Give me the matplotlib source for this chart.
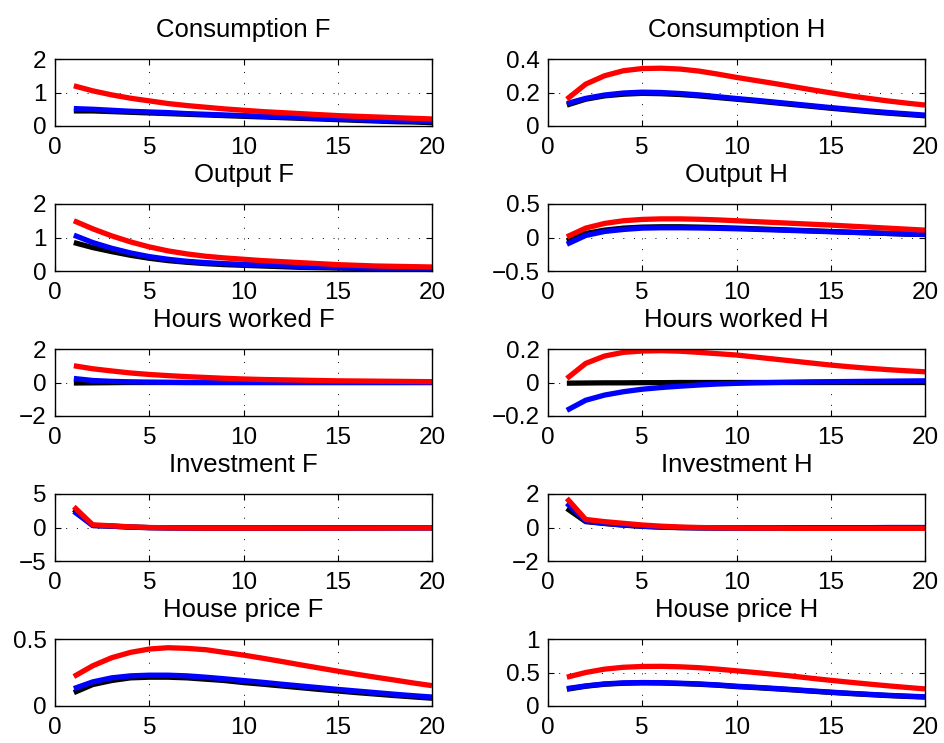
import matplotlib
matplotlib.use("Agg")
import matplotlib.pyplot as plt
import numpy as np

plt.rcParams['font.family'] = ['Liberation Sans', 'DejaVu Sans']

horizon = list(range(1, 21))

titles = ["Consumption F", "Consumption H", "Output F", "Output H",
          "Hours worked F", "Hours worked H", "Investment F", "Investment H",
          "House price F", "House price H"]

ylims = [(0, 2), (0, 0.4), (0, 2), (-0.5, 0.5), (-2, 2), (-0.2, 0.2),
         (-5, 5), (-2, 2), (0, 0.5), (0, 1)]
yticks = [[0, 1, 2], [0, 0.2, 0.4], [0, 1, 2], [-0.5, 0, 0.5], [-2, 0, 2],
          [-0.2, 0, 0.2], [-5, 0, 5], [-2, 0, 2], [0, 0.5], [0, 0.5, 1]]
yticklabels = [["0", "1", "2"], ["0", "0.2", "0.4"], ["0", "1", "2"],
               ["\u22120.5", "0", "0.5"], ["\u22122", "0", "2"],
               ["\u22120.2", "0", "0.2"], ["\u22125", "0", "5"],
               ["\u22122", "0", "2"], ["0", "0.5"], ["0", "0.5", "1"]]

# responses: black, blue, red per panel
black = [
    [0.45, 0.45, 0.43, 0.41, 0.39, 0.37, 0.35, 0.33, 0.31, 0.29, 0.27, 0.25, 0.23, 0.21, 0.19, 0.17, 0.15, 0.13, 0.12, 0.10],
    [0.125, 0.16, 0.18, 0.19, 0.195, 0.193, 0.188, 0.18, 0.17, 0.16, 0.15, 0.139, 0.128, 0.117, 0.106, 0.096, 0.086, 0.077, 0.069, 0.061],
    [0.85, 0.70, 0.58, 0.47, 0.38, 0.31, 0.26, 0.22, 0.19, 0.17, 0.15, 0.13, 0.11, 0.10, 0.09, 0.08, 0.07, 0.06, 0.05, 0.05],
    [-0.05, 0.06, 0.11, 0.14, 0.155, 0.16, 0.16, 0.155, 0.148, 0.14, 0.13, 0.12, 0.11, 0.10, 0.09, 0.08, 0.07, 0.06, 0.05, 0.045],
    [-0.03, -0.02, -0.01, 0.0, 0.0, 0.0, 0.0, 0.0, 0.0, 0.0, 0.0, 0.0, 0.0, 0.0, 0.0, 0.0, 0.0, 0.0, 0.0, 0.0],
    [-0.004, -0.003, -0.002, -0.002, -0.001, -0.001, 0.0, 0.0, 0.0, 0.0, 0.0, 0.0, 0.0, 0.0, 0.0, 0.0, 0.0, 0.0, 0.0, 0.0],
    [2.7, 0.3, 0.2, 0.05, -0.02, -0.05, -0.07, -0.08, -0.08, -0.08, -0.08, -0.08, -0.08, -0.07, -0.07, -0.06, -0.06, -0.05, -0.05, -0.05],
    [1.14, 0.35, 0.24, 0.14, 0.07, 0.02, -0.01, -0.02, -0.03, -0.03, -0.03, -0.03, -0.02, -0.02, -0.02, -0.01, -0.01, -0.01, -0.01, -0.01],
    [0.10, 0.16, 0.19, 0.21, 0.215, 0.215, 0.21, 0.20, 0.19, 0.175, 0.163, 0.15, 0.137, 0.124, 0.112, 0.1, 0.089, 0.078, 0.068, 0.058],
    [0.25, 0.295, 0.325, 0.34, 0.345, 0.343, 0.335, 0.325, 0.31, 0.29, 0.275, 0.258, 0.24, 0.221, 0.203, 0.186, 0.171, 0.156, 0.144, 0.133],
]

blue = [
    [0.52, 0.50, 0.47, 0.44, 0.42, 0.40, 0.37, 0.35, 0.33, 0.31, 0.29, 0.27, 0.25, 0.23, 0.21, 0.19, 0.17, 0.16, 0.14, 0.13],
    [0.134, 0.165, 0.185, 0.197, 0.202, 0.2, 0.194, 0.186, 0.175, 0.164, 0.154, 0.143, 0.132, 0.121, 0.11, 0.1, 0.09, 0.081, 0.073, 0.065],
    [1.07, 0.85, 0.68, 0.54, 0.43, 0.35, 0.29, 0.25, 0.22, 0.20, 0.18, 0.16, 0.14, 0.12, 0.10, 0.09, 0.08, 0.07, 0.06, 0.05],
    [-0.10, 0.03, 0.09, 0.12, 0.14, 0.145, 0.145, 0.142, 0.137, 0.13, 0.122, 0.113, 0.104, 0.095, 0.086, 0.077, 0.069, 0.061, 0.053, 0.046],
    [0.24, 0.12, 0.07, 0.04, 0.02, 0.01, 0.0, 0.0, 0.0, 0.0, 0.0, 0.0, 0.0, 0.0, 0.0, 0.0, 0.0, 0.0, 0.0, 0.0],
    [-0.166, -0.106, -0.075, -0.055, -0.04, -0.03, -0.022, -0.015, -0.009, -0.005, -0.002, 0.0, 0.002, 0.004, 0.005, 0.006, 0.007, 0.008, 0.009, 0.01],
    [2.4, 0.3, 0.2, 0.06, -0.02, -0.05, -0.06, -0.07, -0.07, -0.07, -0.07, -0.06, -0.06, -0.06, -0.05, -0.05, -0.05, -0.04, -0.04, -0.04],
    [1.45, 0.38, 0.25, 0.15, 0.08, 0.03, 0.0, -0.02, -0.02, -0.02, -0.02, -0.02, -0.02, -0.01, -0.01, -0.01, -0.01, 0.0, 0.0, 0.0],
    [0.13, 0.18, 0.21, 0.225, 0.23, 0.23, 0.225, 0.215, 0.203, 0.19, 0.177, 0.163, 0.15, 0.137, 0.124, 0.112, 0.1, 0.088, 0.077, 0.067],
    [0.26, 0.30, 0.33, 0.345, 0.35, 0.348, 0.34, 0.33, 0.315, 0.295, 0.28, 0.263, 0.245, 0.225, 0.207, 0.19, 0.175, 0.16, 0.148, 0.138],
]

red = [
    [1.2, 1.05, 0.93, 0.83, 0.75, 0.67, 0.61, 0.56, 0.51, 0.47, 0.43, 0.40, 0.37, 0.34, 0.31, 0.29, 0.27, 0.25, 0.23, 0.21],
    [0.16, 0.25, 0.30, 0.33, 0.343, 0.345, 0.34, 0.328, 0.31, 0.29, 0.272, 0.254, 0.235, 0.216, 0.198, 0.18, 0.165, 0.15, 0.137, 0.125],
    [1.50, 1.26, 1.05, 0.87, 0.72, 0.60, 0.51, 0.44, 0.39, 0.35, 0.31, 0.28, 0.25, 0.22, 0.19, 0.17, 0.15, 0.14, 0.13, 0.12],
    [0.01, 0.14, 0.21, 0.25, 0.27, 0.278, 0.278, 0.272, 0.263, 0.25, 0.237, 0.224, 0.211, 0.198, 0.185, 0.17, 0.155, 0.14, 0.125, 0.11],
    [1.0, 0.82, 0.69, 0.57, 0.48, 0.41, 0.35, 0.30, 0.25, 0.21, 0.18, 0.16, 0.14, 0.12, 0.10, 0.09, 0.08, 0.07, 0.06, 0.05],
    [0.024, 0.114, 0.158, 0.18, 0.188, 0.19, 0.187, 0.18, 0.172, 0.164, 0.152, 0.14, 0.128, 0.116, 0.104, 0.094, 0.085, 0.077, 0.07, 0.064],
    [3.1, 0.4, 0.25, 0.1, 0.0, -0.05, -0.08, -0.1, -0.1, -0.1, -0.1, -0.1, -0.1, -0.09, -0.09, -0.08, -0.08, -0.07, -0.06, -0.05],
    [1.74, 0.48, 0.35, 0.25, 0.15, 0.08, 0.03, 0.0, -0.02, -0.03, -0.04, -0.04, -0.05, -0.05, -0.05, -0.05, -0.05, -0.05, -0.05, -0.05],
    [0.22, 0.30, 0.36, 0.40, 0.425, 0.435, 0.43, 0.42, 0.40, 0.38, 0.357, 0.333, 0.308, 0.284, 0.26, 0.237, 0.215, 0.194, 0.172, 0.152],
    [0.43, 0.50, 0.55, 0.578, 0.59, 0.592, 0.585, 0.572, 0.55, 0.525, 0.5, 0.473, 0.445, 0.413, 0.383, 0.355, 0.328, 0.302, 0.278, 0.255],
]

xticks = [0, 5, 10, 15, 20]

W, H = 944, 743
fig = plt.figure(figsize=(W / 100, H / 100), dpi=100)

col_left = [55, 548]
ax_w = 377
row_top = [59, 204, 349, 494, 639]
ax_h = 67

for i, title in enumerate(titles):
    r, c = divmod(i, 2)
    ax = fig.add_axes([col_left[c] / W, 1 - (row_top[r] + ax_h) / H,
                       ax_w / W, ax_h / H])
    ax.plot(horizon, black[i], color="black", lw=3.8, solid_capstyle="butt")
    ax.plot(horizon, blue[i], color="#0000ff", lw=3.8, solid_capstyle="butt")
    ax.plot(horizon, red[i], color="#ff0000", lw=3.8, solid_capstyle="butt")
    ax.set_xlim(0, 20)
    ax.set_ylim(*ylims[i])
    ax.set_xticks(xticks)
    ax.set_xticklabels([str(t) for t in xticks])
    ax.set_yticks(yticks[i])
    ax.set_yticklabels(yticklabels[i])
    ax.grid(True, color="black", linestyle=(0, (1, 10)), linewidth=0.7)
    ax.tick_params(direction="in", length=4, width=0.8, top=True, right=True,
                   labelsize=17.5)
    ax.tick_params(axis="x", pad=8)
    ax.tick_params(axis="y", pad=6)
    for s in ax.spines.values():
        s.set_linewidth(1.0)
    ax.set_title(title, fontsize=18.5, pad=16)

fig.savefig("out.png", dpi=100, facecolor="white")
